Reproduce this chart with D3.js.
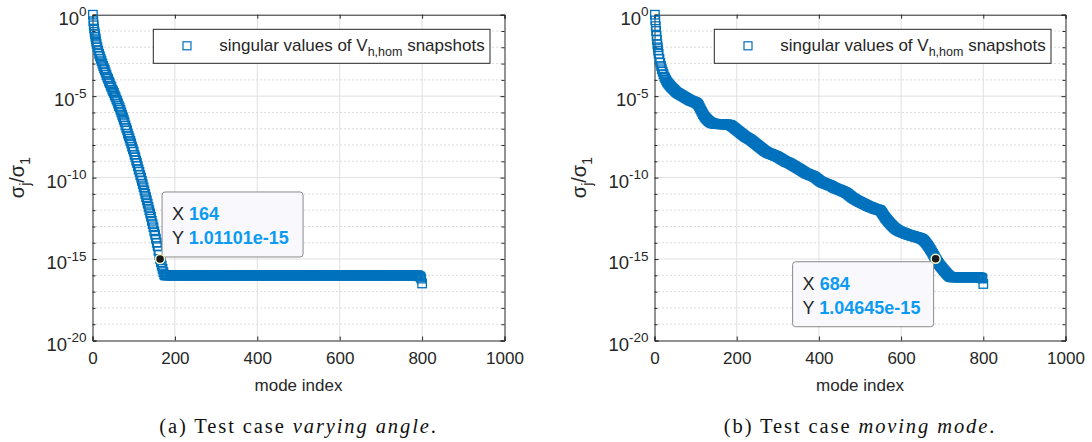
<!DOCTYPE html>
<html><head><meta charset="utf-8">
<script src="https://cdn.jsdelivr.net/npm/d3@7/dist/d3.min.js"></script>
<style>
body{margin:0;background:#fff}
svg{display:block}
</style>
</head><body>
<svg id="c" width="1092" height="442"></svg>
<script>
// ---------- DATA ----------
// mode indices at which values were read: 1..10, then every 2nd index up to 800
const modeIndex = [1,2,3,4,5,6,7,8,9,10].concat(d3.range(12, 801, 2));
const xTicks = [0, 200, 400, 600, 800, 1000];
const yTickExponents = [0, -5, -10, -15, -20];
const yMinorExponents = [-1,-2,-3,-4,-6,-7,-8,-9,-11,-12,-13,-14,-16,-17,-18,-19];

// log10(sigma_j/sigma_1), test case (a) varying angle
const log10VaryingAngle = [
0,-0.4,-0.65,-0.85,-1.05,-1.2,-1.35,-1.5,-1.65,-1.8,
-2.0,-2.2,-2.4,-2.55,-2.7,-2.85,-3.0,-3.15,-3.3,-3.4,
-3.55,-3.7,-3.85,-3.95,-4.1,-4.2,-4.35,-4.45,-4.6,-4.7,
-4.8,-4.95,-5.05,-5.2,-5.3,-5.45,-5.6,-5.7,-5.85,-6.0,
-6.15,-6.3,-6.45,-6.6,-6.8,-6.95,-7.1,-7.3,-7.45,-7.6,
-7.75,-7.9,-8.1,-8.25,-8.4,-8.6,-8.75,-8.95,-9.1,-9.3,
-9.5,-9.65,-9.85,-10.0,-10.2,-10.4,-10.6,-10.8,-11.0,-11.2,
-11.4,-11.6,-11.8,-12.0,-12.2,-12.4,-12.65,-12.85,-13.05,-13.3,
-13.5,-13.75,-14.0,-14.2,-14.5,-14.75,-15.0,-15.2,-15.4,-15.6,
-15.8,-15.95,-16,-16,-16,-16,-16,-16,-16,-16,
-16,-16,-16,-16,-16,-16,-16,-16,-16,-16,
-16,-16,-16,-16,-16,-16,-16,-16,-16,-16,
-16,-16,-16,-16,-16,-16,-16,-16,-16,-16,
-16,-16,-16,-16,-16,-16,-16,-16,-16,-16,
-16,-16,-16,-16,-16,-16,-16,-16,-16,-16,
-16,-16,-16,-16,-16,-16,-16,-16,-16,-16,
-16,-16,-16,-16,-16,-16,-16,-16,-16,-16,
-16,-16,-16,-16,-16,-16,-16,-16,-16,-16,
-16,-16,-16,-16,-16,-16,-16,-16,-16,-16,
-16,-16,-16,-16,-16,-16,-16,-16,-16,-16,
-16,-16,-16,-16,-16,-16,-16,-16,-16,-16,
-16,-16,-16,-16,-16,-16,-16,-16,-16,-16,
-16,-16,-16,-16,-16,-16,-16,-16,-16,-16,
-16,-16,-16,-16,-16,-16,-16,-16,-16,-16,
-16,-16,-16,-16,-16,-16,-16,-16,-16,-16,
-16,-16,-16,-16,-16,-16,-16,-16,-16,-16,
-16,-16,-16,-16,-16,-16,-16,-16,-16,-16,
-16,-16,-16,-16,-16,-16,-16,-16,-16,-16,
-16,-16,-16,-16,-16,-16,-16,-16,-16,-16,
-16,-16,-16,-16,-16,-16,-16,-16,-16,-16,
-16,-16,-16,-16,-16,-16,-16,-16,-16,-16,
-16,-16,-16,-16,-16,-16,-16,-16,-16,-16,
-16,-16,-16,-16,-16,-16,-16,-16,-16,-16,
-16,-16,-16,-16,-16,-16,-16,-16,-16,-16,
-16,-16,-16,-16,-16,-16,-16,-16,-16,-16,
-16,-16,-16,-16,-16,-16,-16,-16,-16,-16,
-16,-16,-16,-16,-16,-16,-16,-16,-16,-16,
-16,-16,-16,-16,-16,-16,-16,-16,-16,-16,
-16,-16,-16,-16,-16,-16,-16,-16,-16,-16,
-16,-16,-16,-16,-16,-16,-16,-16,-16,-16,
-16.05,-16.05,-16.1,-16.2,-16.5
];

// log10(sigma_j/sigma_1), test case (b) moving mode
const log10MovingMode = [
0,-0.35,-0.7,-1.0,-1.3,-1.55,-1.8,-2.0,-2.2,-2.4,
-2.7,-2.95,-3.15,-3.35,-3.5,-3.65,-3.8,-3.9,-4.0,-4.1,
-4.17,-4.24,-4.3,-4.36,-4.42,-4.47,-4.52,-4.57,-4.62,-4.67,
-4.72,-4.77,-4.8,-4.83,-4.86,-4.89,-4.92,-4.95,-4.98,-5.01,
-5.04,-5.07,-5.1,-5.13,-5.16,-5.19,-5.22,-5.25,-5.27,-5.29,
-5.31,-5.33,-5.35,-5.37,-5.39,-5.42,-5.46,-5.52,-5.6,-5.7,
-5.8,-5.9,-6.0,-6.1,-6.18,-6.26,-6.32,-6.38,-6.43,-6.48,
-6.53,-6.57,-6.6,-6.63,-6.65,-6.67,-6.68,-6.69,-6.7,-6.71,
-6.71,-6.72,-6.72,-6.72,-6.72,-6.72,-6.73,-6.73,-6.73,-6.73,
-6.74,-6.74,-6.74,-6.75,-6.75,-6.76,-6.78,-6.8,-6.83,-6.87,
-6.91,-6.95,-6.99,-7.03,-7.07,-7.11,-7.15,-7.19,-7.23,-7.27,
-7.31,-7.35,-7.39,-7.43,-7.47,-7.5,-7.53,-7.56,-7.59,-7.62,
-7.65,-7.68,-7.72,-7.76,-7.8,-7.84,-7.88,-7.92,-7.96,-8.0,
-8.04,-8.08,-8.12,-8.16,-8.2,-8.24,-8.28,-8.32,-8.36,-8.39,
-8.42,-8.45,-8.48,-8.5,-8.52,-8.54,-8.56,-8.58,-8.6,-8.62,
-8.64,-8.66,-8.68,-8.7,-8.73,-8.76,-8.79,-8.82,-8.85,-8.88,
-8.91,-8.94,-8.97,-9.0,-9.03,-9.05,-9.07,-9.09,-9.11,-9.14,
-9.17,-9.2,-9.23,-9.26,-9.29,-9.32,-9.35,-9.38,-9.41,-9.44,
-9.47,-9.5,-9.53,-9.56,-9.6,-9.63,-9.66,-9.69,-9.72,-9.75,
-9.77,-9.79,-9.81,-9.83,-9.85,-9.87,-9.89,-9.91,-9.94,-9.97,
-10.0,-10.04,-10.08,-10.12,-10.16,-10.2,-10.23,-10.26,-10.29,-10.31,
-10.33,-10.35,-10.37,-10.39,-10.41,-10.43,-10.45,-10.47,-10.49,-10.51,
-10.54,-10.57,-10.6,-10.63,-10.65,-10.67,-10.69,-10.71,-10.73,-10.75,
-10.77,-10.79,-10.81,-10.83,-10.86,-10.88,-10.9,-10.93,-10.96,-11.0,
-11.04,-11.08,-11.12,-11.16,-11.2,-11.24,-11.27,-11.3,-11.33,-11.36,
-11.39,-11.42,-11.45,-11.47,-11.5,-11.52,-11.55,-11.57,-11.6,-11.62,
-11.65,-11.67,-11.7,-11.72,-11.75,-11.77,-11.79,-11.81,-11.83,-11.85,
-11.87,-11.89,-11.91,-11.93,-11.95,-11.96,-11.97,-11.98,-12.0,-12.04,
-12.1,-12.17,-12.25,-12.33,-12.41,-12.48,-12.54,-12.6,-12.66,-12.72,
-12.78,-12.84,-12.89,-12.94,-12.99,-13.04,-13.09,-13.13,-13.17,-13.2,
-13.23,-13.26,-13.29,-13.31,-13.33,-13.35,-13.37,-13.39,-13.41,-13.43,
-13.45,-13.47,-13.49,-13.51,-13.52,-13.54,-13.55,-13.57,-13.58,-13.6,
-13.61,-13.63,-13.64,-13.66,-13.67,-13.69,-13.7,-13.72,-13.74,-13.76,
-13.79,-13.83,-13.88,-13.93,-13.99,-14.06,-14.13,-14.2,-14.28,-14.36,
-14.44,-14.52,-14.61,-14.7,-14.79,-14.88,-14.98,-15.06,-15.14,-15.22,
-15.3,-15.37,-15.44,-15.5,-15.56,-15.62,-15.68,-15.74,-15.8,-15.86,
-15.92,-15.97,-16.02,-16.06,-16.09,-16.11,-16.12,-16.12,-16.12,-16.12,
-16.12,-16.12,-16.12,-16.12,-16.12,-16.12,-16.12,-16.12,-16.12,-16.12,
-16.12,-16.12,-16.12,-16.12,-16.12,-16.12,-16.12,-16.12,-16.12,-16.12,
-16.12,-16.12,-16.12,-16.12,-16.12,-16.12,-16.12,-16.12,-16.12,-16.12,
-16.13,-16.14,-16.16,-16.2,-16.53
];

const dataTipA = {x: 164, y: 1.01101e-15, xText: "164", yText: "1.01101e-15"};
const dataTipB = {x: 684, y: 1.04645e-15, xText: "684", yText: "1.04645e-15"};
const captionA = ["(a) Test case ", "varying angle", "."];
const captionB = ["(b) Test case ", "moving mode", "."];

if (log10VaryingAngle.length !== modeIndex.length || log10MovingMode.length !== modeIndex.length) {
  throw new Error("length mismatch " + modeIndex.length + " " + log10VaryingAngle.length + " " + log10MovingMode.length);
}

// ---------- DRAW ----------
const svg = d3.select("#c");
const BLUE = "#0072BD", AX = "#262626";
const SANS = '"Liberation Sans",Arial,Helvetica,sans-serif';
const SERIF = '"Liberation Serif","Times New Roman",serif';

const panels = [
  {x0: 92.5, x1: 504.5, vals: log10VaryingAngle, tip: dataTipA, cap: captionA, tipPos: "above"},
  {x0: 654.5, x1: 1065.5, vals: log10MovingMode, tip: dataTipB, cap: captionB, tipPos: "below"}
];
const yTop = 14.7, yBot = 340.5;

function txt(sel) { return sel.append("text").style("font-family", SANS).attr("fill", AX); }

panels.forEach(p => {
  const g = svg.append("g");
  const x = d3.scaleLinear().domain([0, 1000]).range([p.x0, p.x1]);
  const y = d3.scaleLog().domain([1e-20, 1]).range([yBot, yTop]);

  // minor grid (dotted)
  g.selectAll(".mg").data(yMinorExponents).enter().append("line")
    .attr("x1", p.x0).attr("x2", p.x1)
    .attr("y1", d => y(Math.pow(10, d))).attr("y2", d => y(Math.pow(10, d)))
    .attr("stroke", "#b8b8b8").attr("stroke-width", 1).attr("stroke-dasharray", "1,3");
  // major grid
  g.selectAll(".gy").data(yTickExponents.slice(1, -1)).enter().append("line")
    .attr("x1", p.x0).attr("x2", p.x1)
    .attr("y1", d => y(Math.pow(10, d))).attr("y2", d => y(Math.pow(10, d)))
    .attr("stroke", "#e0e0e0").attr("stroke-width", 1);
  g.selectAll(".gx").data(xTicks.slice(1, -1)).enter().append("line")
    .attr("x1", d => x(d)).attr("x2", d => x(d))
    .attr("y1", yTop).attr("y2", yBot)
    .attr("stroke", "#e0e0e0").attr("stroke-width", 1);

  // axes box + ticks
  const axB = d3.axisBottom(x).tickValues(xTicks).tickSize(-4).tickPadding(11).tickFormat(d3.format("d"));
  const axT = d3.axisTop(x).tickValues(xTicks).tickSize(-4).tickFormat("");
  const allY = yTickExponents.concat(yMinorExponents).map(e => Math.pow(10, e));
  const axL = d3.axisLeft(y).tickValues(allY).tickSize(-4).tickFormat("");
  const axR = d3.axisRight(y).tickValues(allY).tickSize(-4).tickFormat("");
  const gb = g.append("g").attr("transform", `translate(0,${yBot})`).call(axB);
  const gt = g.append("g").attr("transform", `translate(0,${yTop})`).call(axT);
  const gl = g.append("g").attr("transform", `translate(${p.x0},0)`).call(axL);
  const gr = g.append("g").attr("transform", `translate(${p.x1},0)`).call(axR);
  [gb, gt, gl, gr].forEach(a => {
    a.select(".domain").attr("stroke", AX).attr("stroke-width", 1);
    a.selectAll(".tick line").attr("stroke", AX);
  });
  [gl, gr].forEach((a, i) => {
    a.selectAll(".tick").filter(d => yMinorExponents.includes(Math.round(Math.log10(d))))
      .select("line").attr("x2", i === 0 ? 3 : -3);
  });
  gb.selectAll(".tick text").attr("fill", AX).style("font-size", "17px").style("font-family", SANS);

  // y tick labels with superscript
  yTickExponents.forEach(e => {
    const t = txt(g).attr("x", p.x0 - 6).attr("y", y(Math.pow(10, e)) + 10)
      .attr("text-anchor", "end").style("font-size", "18.5px");
    t.append("tspan").text("10");
    t.append("tspan").attr("dy", -8.5).style("font-size", "13.5px").text(e === 0 ? "0" : "-" + (-e));
  });

  // data markers (hollow squares)
  const s = 8.5;
  g.append("g").selectAll("rect").data(p.vals).enter().append("rect")
    .attr("x", (d, i) => x(modeIndex[i]) - s / 2)
    .attr("y", d => y(Math.pow(10, d)) - s / 2)
    .attr("width", s).attr("height", s)
    .attr("fill", "none").attr("stroke", BLUE).attr("stroke-width", 1.3);

  // legend
  const lx = p.x1 - 14.5 - 336.7, ly = 29.3;
  g.append("rect").attr("x", lx).attr("y", ly).attr("width", 336.7).attr("height", 34)
    .attr("fill", "#fff").attr("stroke", AX).attr("stroke-width", 1);
  g.append("rect").attr("x", lx + 33.7 - 4).attr("y", ly + 16.5 - 4).attr("width", 8).attr("height", 8)
    .attr("fill", "none").attr("stroke", BLUE).attr("stroke-width", 1.2);
  const lt = txt(g).attr("x", lx + 66).attr("y", ly + 22).style("font-size", "17px");
  lt.append("tspan").text("singular values of V");
  lt.append("tspan").attr("dy", 5).style("font-size", "12.5px").text("h,hom");
  lt.append("tspan").attr("dy", -5).text(" snapshots");

  // axis labels
  txt(g).attr("x", (p.x0 + p.x1) / 2).attr("y", 391).attr("text-anchor", "middle")
    .style("font-size", "17px").text("mode index");
  const yl = txt(g).attr("transform", `translate(${p.x0 - 69},${(yTop + yBot) / 2}) rotate(-90)`)
    .attr("text-anchor", "middle").style("font-size", "20px");
  yl.append("tspan").text("σ");
  yl.append("tspan").attr("dy", 6).style("font-size", "14px").text("j");
  yl.append("tspan").attr("dy", -6).text("/σ");
  yl.append("tspan").attr("dy", 6).style("font-size", "14px").text("1");

  // data tip
  const tx = x(p.tip.x), ty = y(p.tip.y);
  const bw = 141, bh = 65;
  const bx = p.tipPos === "above" ? tx + 2 : tx - 2 - bw;
  const by = p.tipPos === "above" ? ty - 67 : ty + 3;
  g.append("rect").attr("x", bx).attr("y", by).attr("width", bw).attr("height", bh)
    .attr("rx", 3).attr("fill", "#f8f8fd").attr("stroke", "#8a8a8a").attr("stroke-width", 1);
  const r1 = txt(g).attr("x", bx + 10).attr("y", by + 28).style("font-size", "18px");
  r1.append("tspan").attr("fill", AX).text("X ");
  r1.append("tspan").attr("fill", "#0d9bf2").attr("font-weight", "bold").text(p.tip.xText);
  const r2 = txt(g).attr("x", bx + 10).attr("y", by + 52).style("font-size", "18px");
  r2.append("tspan").attr("fill", AX).text("Y ");
  r2.append("tspan").attr("fill", "#0d9bf2").attr("font-weight", "bold").text(p.tip.yText);
  g.append("circle").attr("cx", tx).attr("cy", ty).attr("r", 4.5)
    .attr("fill", "#1a1a1a").attr("stroke", "#f3f3c8").attr("stroke-width", 1.5);

  // caption
  const ct = g.append("text").attr("x", (p.x0 + p.x1) / 2).attr("y", 433).attr("text-anchor", "middle")
    .attr("fill", "#111").style("font-size", "20.5px").style("font-family", SERIF)
    .style("letter-spacing", "1.9px");
  ct.append("tspan").text(p.cap[0]);
  ct.append("tspan").style("font-style", "italic").text(p.cap[1]);
  ct.append("tspan").text(p.cap[2]);
});
</script>
</body></html>
